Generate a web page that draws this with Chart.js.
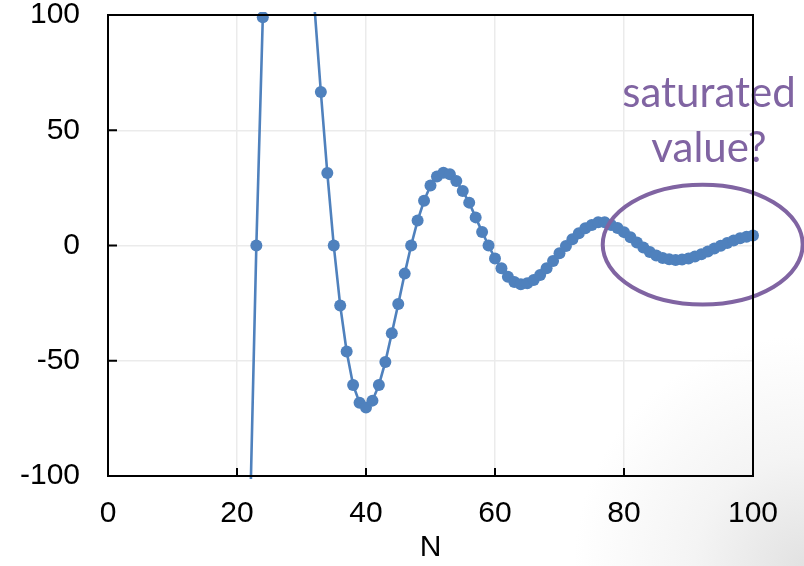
<!DOCTYPE html>
<html>
<head>
<meta charset="utf-8">
<script src="https://cdn.jsdelivr.net/npm/chart.js@4/dist/chart.umd.min.js"></script>
<style>
  html, body {
    margin: 0;
    padding: 0;
  }
  body {
    width: 804px;
    height: 566px;
    background: radial-gradient(circle at 100% 100%, #e2e2e2 0px, #f4f4f4 110px, #ffffff 230px);
  }
  #wrap {
    position: relative;
    width: 804px;
    height: 566px;
  }
</style>
</head>
<body>
<div id="wrap"><canvas id="convChart" width="804" height="566"></canvas></div>
<script>
// N values and the computed sum at each N
const nValues = [
  20, 21, 22, 23, 24, 25, 26, 27, 28, 29,
  30, 31, 32, 33, 34, 35, 36, 37, 38, 39,
  40, 41, 42, 43, 44, 45, 46, 47, 48, 49,
  50, 51, 52, 53, 54, 55, 56, 57, 58, 59,
  60, 61, 62, 63, 64, 65, 66, 67, 68, 69,
  70, 71, 72, 73, 74, 75, 76, 77, 78, 79,
  80, 81, 82, 83, 84, 85, 86, 87, 88, 89,
  90, 91, 92, 93, 94, 95, 96, 97, 98, 99, 100
];
const sumValues = [
  -520, -310, -120, 0, 99, 180, 240, 270, 275, 250,
  205, 155, 104, 66.6, 31.5, 0, -26, -46, -60.5, -68.2,
  -70.3, -67.3, -60.5, -50.5, -38.1, -25.4, -12.2, 0, 10.8, 19.4,
  26, 29.9, 31.6, 30.9, 28, 23.6, 18.6, 12.2, 5.9, 0,
  -5.6, -9.9, -13.6, -15.8, -16.8, -16.4, -15, -12.8, -9.9, -6.7,
  -3.4, -0.2, 2.7, 5.3, 7.5, 8.9, 10.1, 10.1, 8.9, 7.6,
  5.8, 3.6, 1.3, -0.9, -2.8, -4.3, -5.4, -6.0, -6.3, -6.1,
  -5.6, -4.8, -3.8, -2.6, -1.3, -0.1, 1.1, 2.2, 3.1, 3.8, 4.3
];
const xTicks = [0, 20, 40, 60, 80, 100];
const yTicks = [-100, -50, 0, 50, 100];
const noteLines = ["saturated", "value?"];

const blue = "#4f81bd";
const purple = "#8064a2";

// note + ellipse around the tail of the curve
const notePlugin = {
  id: "note",
  afterDatasetsDraw(chart) {
    const ctx = chart.ctx;
    const x = chart.scales.x, y = chart.scales.y;
    const cx = x.getPixelForValue(92.2);
    const cy = y.getPixelForValue(0.4);
    const rx = x.getPixelForValue(92.2 + 15.5) - cx;
    const ry = cy - y.getPixelForValue(0.4 + 26);
    ctx.save();
    ctx.strokeStyle = purple;
    ctx.lineWidth = 4;
    ctx.beginPath();
    ctx.ellipse(cx, cy, rx, ry, 0, 0, Math.PI * 2);
    ctx.stroke();

    ctx.fillStyle = purple;
    ctx.font = "42px Lato";
    ctx.textAlign = "center";
    ctx.textBaseline = "alphabetic";
    ctx.fillText(noteLines[0], 709, 107);
    ctx.fillText(noteLines[1], 709, 162);
    ctx.restore();
  }
};

// black box round the plot with inward tick marks
const framePlugin = {
  id: "frame",
  afterDraw(chart) {
    const ctx = chart.ctx;
    const a = chart.chartArea;
    const x = chart.scales.x, y = chart.scales.y;
    ctx.save();
    ctx.strokeStyle = "#000";
    ctx.lineWidth = 2;
    ctx.beginPath();
    xTicks.slice(1, -1).forEach(v => {
      const px = x.getPixelForValue(v);
      ctx.moveTo(px, a.bottom);
      ctx.lineTo(px, a.bottom - 8);
    });
    yTicks.slice(1, -1).forEach(v => {
      const py = y.getPixelForValue(v);
      ctx.moveTo(a.left, py);
      ctx.lineTo(a.left + 9, py);
    });
    ctx.stroke();
    ctx.strokeRect(a.left, a.top, a.right - a.left, a.bottom - a.top);
    ctx.restore();
  }
};

const points = nValues.map((n, i) => ({ x: n, y: sumValues[i] }));

new Chart(document.getElementById("convChart"), {
  type: "line",
  data: {
    datasets: [{
      data: points,
      borderColor: blue,
      backgroundColor: blue,
      borderWidth: 2.6,
      pointRadius: 6,
      pointHoverRadius: 6,
      pointBorderWidth: 0,
      tension: 0,
      clip: { top: 3, bottom: 3, left: 8, right: 8 }
    }]
  },
  options: {
    responsive: false,
    animation: false,
    devicePixelRatio: 1,
    layout: { padding: { top: 15, right: 51, left: 0, bottom: 0 } },
    plugins: {
      legend: { display: false },
      tooltip: { enabled: false }
    },
    scales: {
      x: {
        type: "linear",
        min: 0,
        max: 100,
        afterBuildTicks: s => { s.ticks = xTicks.map(v => ({ value: v })); },
        afterFit: s => {
          s.height = 90;
          s.paddingLeft = 0;
          s.paddingRight = 0;
        },
        border: { display: false },
        grid: { color: "#ebebeb", lineWidth: 1.5, drawTicks: false },
        ticks: {
          padding: 20,
          color: "#000",
          font: { family: "Liberation Sans", size: 30 },
          maxRotation: 0
        },
        title: {
          display: true,
          text: "N",
          color: "#000",
          padding: { top: 0, bottom: 0 },
          font: { family: "Liberation Sans", size: 30 }
        }
      },
      y: {
        min: -100,
        max: 100,
        afterBuildTicks: s => { s.ticks = yTicks.map(v => ({ value: v })); },
        afterFit: s => {
          s.width = 108;
          s.paddingTop = 0;
          s.paddingBottom = 0;
        },
        border: { display: false },
        grid: { color: "#ebebeb", lineWidth: 1.5, drawTicks: false },
        ticks: {
          padding: 28,
          color: "#000",
          font: { family: "Liberation Sans", size: 30 }
        }
      }
    }
  },
  plugins: [notePlugin, framePlugin]
});
</script>
</body>
</html>
